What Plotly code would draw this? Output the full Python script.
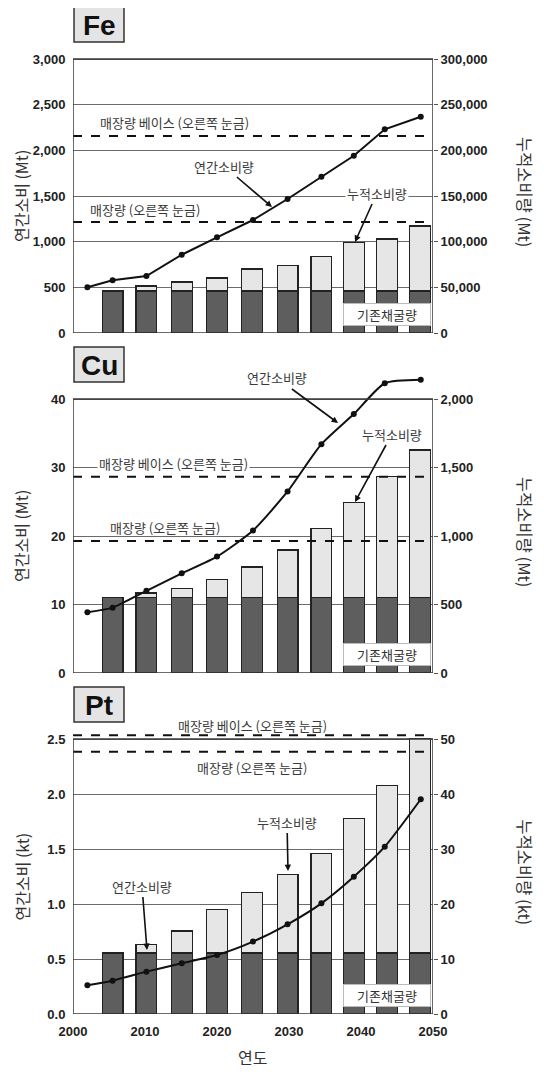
import plotly.graph_objects as go

# page body has an 8px margin; size the figure to fit the window inside it
OX, OY = 8, 8
W, H = 544 - 2 * OX, 1079 - 2 * OY

# ---------------- data ----------------
years_line = [2002, 2005.5, 2010.2, 2015.1, 2020, 2025, 2029.8, 2034.5, 2039, 2043.3, 2048.3]
years_bar = [2005.5, 2010.2, 2015.1, 2020, 2024.9, 2029.8, 2034.5, 2039, 2043.6, 2048.2]

fe_annual = [500, 577, 624, 857, 1048, 1237, 1467, 1712, 1941, 2230, 2368]
fe_cumulative = [46000, 51500, 55800, 60200, 70100, 74100, 84000, 98900, 102900, 117100]
fe_existing = 46000
fe_reserve_base = 215700
fe_reserve = 121500

cu_annual = [8.86, 9.54, 12.0, 14.55, 17.0, 20.8, 26.5, 33.4, 37.8, 42.3, 42.8]
cu_cumulative = [553, 584, 615, 681, 774, 898, 1054, 1246, 1433, 1628]
cu_existing = 553
cu_reserve_base = 1433
cu_reserve = 963

pt_annual = [0.261, 0.303, 0.385, 0.461, 0.536, 0.658, 0.815, 1.006, 1.248, 1.521, 1.952]
pt_cumulative = [11.1, 12.7, 15.1, 19.0, 22.1, 25.3, 29.2, 35.6, 41.6, 50.1]
pt_existing = 11.1
pt_reserve_base = 50.7
pt_reserve = 47.7

fe_left_ticks = [0, 500, 1000, 1500, 2000, 2500, 3000]
fe_right_ticks = [0, 50000, 100000, 150000, 200000, 250000, 300000]
cu_left_ticks = [0, 10, 20, 30, 40]
cu_right_ticks = [0, 500, 1000, 1500, 2000]
pt_left_ticks = [0.0, 0.5, 1.0, 1.5, 2.0, 2.5]
pt_right_ticks = [0, 10, 20, 30, 40, 50]
x_ticks = [2000, 2010, 2020, 2030, 2040, 2050]

metals = ["Fe", "Cu", "Pt"]
left_titles = ["연간소비 (Mt)", "연간소비 (Mt)", "연간소비 (kt)"]
right_titles = ["누적소비량 (Mt)", "누적소비량 (Mt)", "누적소비량 (kt)"]
label_annual = "연간소비량"
label_cum = "누적소비량"
label_base = "매장량 베이스 (오른쪽 눈금)"
label_res = "매장량 (오른쪽 눈금)"
label_exist = "기존채굴량"
x_title = "연도"

# ---------------- styling / layout helpers ----------------
FONT_NUM = "Liberation Sans, Arial, Noto Sans CJK KR"
FONT_KR = "Noto Sans CJK KR, Liberation Sans"
DARK = "#5e5e5e"
LIGHT = "#e6e6e6"
EDGE = "#222222"
TXT = "#333333"

def px(x):
    return (x - OX) / W

def py(y):
    return 1 - (y - OY) / H

X_LEFT, X_RIGHT = 73, 433
EXT = 1.1

panels = [
    dict(annual=fe_annual, cum=fe_cumulative, exist=fe_existing, rb=fe_reserve_base, rs=fe_reserve,
         lt=fe_left_ticks, rt=fe_right_ticks, lfmt=lambda v: f"{v:,}", rfmt=lambda v: f"{v:,}",
         bottom=333, top=59, shape="linear"),
    dict(annual=cu_annual, cum=cu_cumulative, exist=cu_existing, rb=cu_reserve_base, rs=cu_reserve,
         lt=cu_left_ticks, rt=cu_right_ticks, lfmt=lambda v: f"{v:,}", rfmt=lambda v: f"{v:,}",
         bottom=673, top=399, shape="spline"),
    dict(annual=pt_annual, cum=pt_cumulative, exist=pt_existing, rb=pt_reserve_base, rs=pt_reserve,
         lt=pt_left_ticks, rt=pt_right_ticks, lfmt=lambda v: f"{v:.1f}", rfmt=lambda v: f"{v:,}",
         bottom=1014, top=739, shape="spline"),
]

fig = go.Figure()
layout = dict(
    width=W, height=H, margin=dict(l=0, r=0, t=0, b=0, autoexpand=False),
    paper_bgcolor="white", plot_bgcolor="white",
    barmode="stack", showlegend=False,
    font=dict(family=FONT_NUM, color=TXT),
)
shapes = []
annotations = []

def ann(**kw):
    d = dict(xref="paper", yref="paper", xanchor="center", yanchor="middle")
    d.update(kw)
    annotations.append(d)

for i, p in enumerate(panels):
    xn = "x" if i == 0 else f"x{i+1}"
    ybase = "y" if i == 0 else f"y{2*i+1}"   # right axis (cumulative)
    yover = f"y{2*i+2}"                       # left axis (annual)
    xkey = "xaxis" if i == 0 else f"xaxis{i+1}"
    ybkey = "yaxis" if i == 0 else f"yaxis{2*i+1}"
    yokey = f"yaxis{2*i+2}"

    ltop = p["lt"][-1]
    rtop = p["rt"][-1]
    hpx = p["bottom"] - p["top"]
    dom = [py(p["bottom"]), py(p["bottom"] - EXT * hpx)]

    layout[xkey] = dict(
        domain=[px(X_LEFT), px(X_RIGHT)], range=[2000, 2050], anchor=yover,
        showgrid=False, zeroline=False, showline=False, automargin=False,
        tickvals=x_ticks if i == 2 else [], showticklabels=(i == 2),
        ticks="outside", ticklen=5, tickcolor="white",
        tickfont=dict(size=13, weight="bold", color="#222"),
    )
    layout[ybkey] = dict(
        domain=dom, range=[0, rtop * EXT], anchor=xn, side="right",
        showgrid=False, zeroline=False, showline=False, automargin=False,
        tickvals=p["rt"], ticktext=[p["rfmt"](v) for v in p["rt"]],
        ticks="outside", ticklen=4, tickcolor="#555",
        tickfont=dict(size=13, weight="bold", color="#222"),
    )
    layout[yokey] = dict(
        domain=dom, range=[0, ltop * EXT], anchor=xn, side="left", overlaying=ybase,
        showgrid=True, gridcolor="#6a6a6a", gridwidth=1, zeroline=False, showline=False,
        automargin=False,
        tickvals=p["lt"], ticktext=[p["lfmt"](v) for v in p["lt"]],
        ticks="outside", ticklen=4, tickcolor="white",
        tickfont=dict(size=13, weight="bold", color="#222"),
    )

    exist_vals = [min(p["exist"], c) for c in p["cum"]]
    extra_vals = [c - p["exist"] if c - p["exist"] > 0.005 * rtop else None for c in p["cum"]]
    fig.add_trace(go.Bar(x=years_bar, y=exist_vals, width=2.9, xaxis=xn, yaxis=ybase,
                         marker=dict(color=DARK, line=dict(color=EDGE, width=1.2))))
    fig.add_trace(go.Bar(x=years_bar, y=extra_vals, width=2.9, xaxis=xn, yaxis=ybase,
                         marker=dict(color=LIGHT, line=dict(color=EDGE, width=1.2))))
    fig.add_trace(go.Scatter(x=years_line, y=p["annual"], xaxis=xn, yaxis=yover,
                             mode="lines+markers", cliponaxis=False,
                             line=dict(color="#111", width=2, shape=p["shape"], smoothing=0.6),
                             marker=dict(color="#111", size=6)))

    # reserve lines (right scale)
    for val in (p["rb"], p["rs"]):
        shapes.append(dict(type="line", xref=xn, yref=ybase, x0=2000, x1=2050, y0=val, y1=val,
                           line=dict(color="#111", width=2, dash="dash"), layer="above"))
    # frame
    shapes.append(dict(type="rect", xref=xn, yref=ybase, x0=2000, x1=2050, y0=0, y1=rtop,
                       line=dict(color="#3a3a3a", width=1.5), fillcolor="rgba(0,0,0,0)", layer="above"))

    # metal title box
    box_top = p["top"] - 52
    shapes.append(dict(type="rect", xref="paper", yref="paper",
                       x0=px(74), x1=px(124), y0=py(box_top + 35), y1=py(box_top),
                       line=dict(color="#333", width=1.5), fillcolor="#e4e4e4", layer="above"))
    ann(x=px(99), y=py(box_top + 18), text=f"<b>{metals[i]}</b>", showarrow=False,
        font=dict(family=FONT_NUM, size=28, color="#111"))

    # axis titles
    mid = (p["bottom"] + p["top"]) / 2
    ann(x=px(21), y=py(mid), text=left_titles[i], textangle=-90, showarrow=False,
        font=dict(family=FONT_KR, size=16, color=TXT))
    ann(x=px(525), y=py(mid - 4), text=right_titles[i], textangle=90, showarrow=False,
        font=dict(family=FONT_KR, size=16.5, color=TXT))

    # existing-mining box
    ann(x=px(387), y=py(p["bottom"] - 18.5), text=label_exist, showarrow=False, width=86, height=21,
        bgcolor="white", bordercolor="#bbbbbb", borderwidth=1, borderpad=0,
        font=dict(family=FONT_KR, size=13, color=TXT))

def note(x, y, text, bg=False):
    d = dict(x=px(x), y=py(y), text=text, showarrow=False,
             font=dict(family=FONT_KR, size=13, color="#3a3a3a"))
    if bg:
        d.update(bgcolor="white", borderpad=1)
    ann(**d)

def arrow(tx, ty, lx, ly, text):
    ann(x=px(tx), y=py(ty), text=text, showarrow=True, ax=lx - tx, ay=ly - ty,
        arrowhead=2, arrowsize=0.8, arrowwidth=1.6, arrowcolor="#111", standoff=0,
        bgcolor="white", font=dict(family=FONT_KR, size=13, color="#3a3a3a"))

# Fe
note(174, 122, label_base)
note(145, 209, label_res)
arrow(272, 207, 224, 166, label_annual)
arrow(355, 242, 377, 193, label_cum)
# Cu
note(173, 464, label_base, bg=True)
note(165, 527, label_res)
arrow(338, 423, 277, 378, label_annual)
arrow(355, 502, 392, 434, label_cum)
# Pt
note(252, 725, label_base)
note(252, 767, label_res)
arrow(288, 871, 287, 822, label_cum)
arrow(147, 950, 142, 886, label_annual)

# x-axis title
ann(x=px(252), y=py(1057), text=x_title, showarrow=False,
    font=dict(family=FONT_KR, size=16, color=TXT))

layout["shapes"] = shapes
layout["annotations"] = annotations
fig.update_layout(**layout)
fig.write_html("out.html")
